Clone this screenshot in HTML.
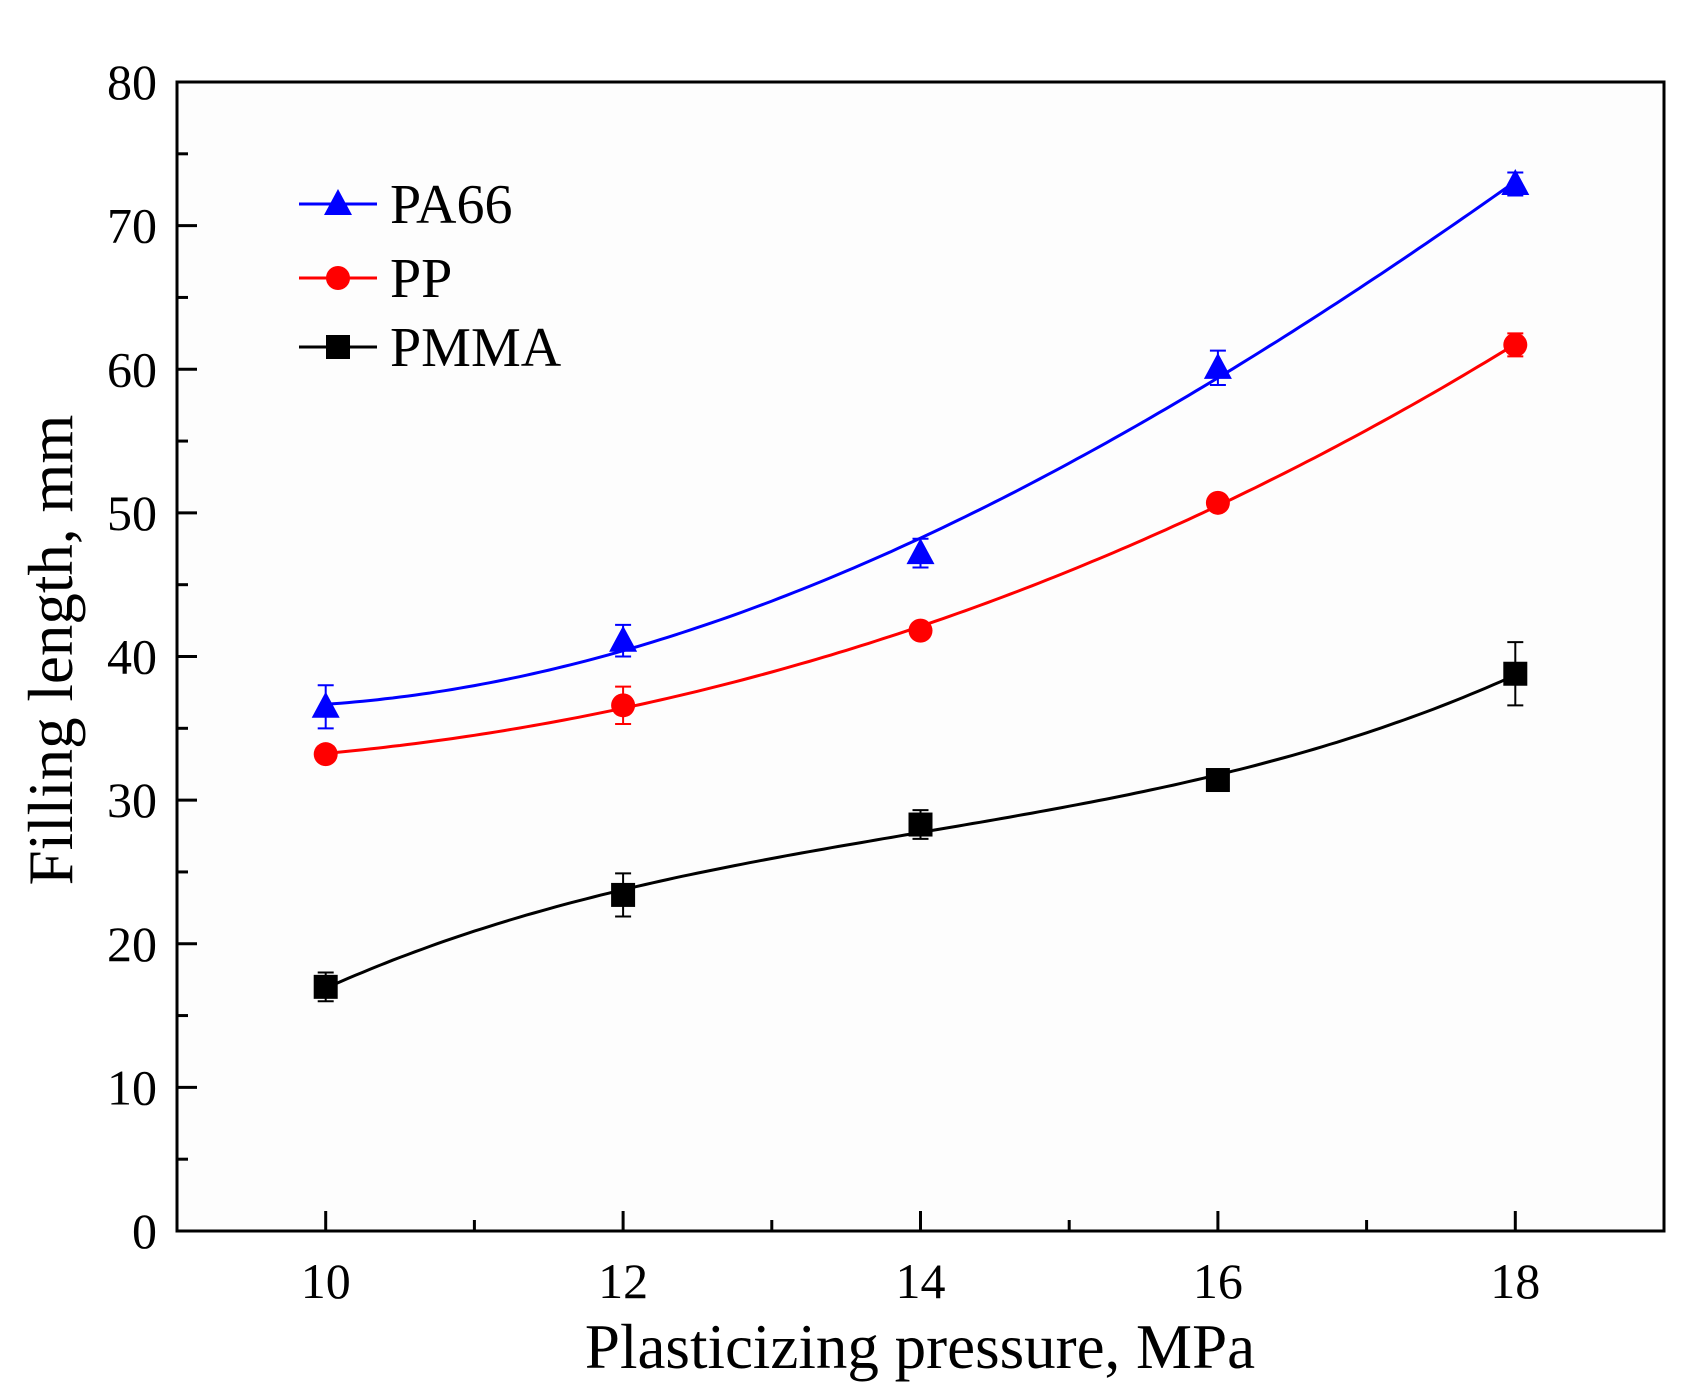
<!DOCTYPE html>
<html><head><meta charset="utf-8"><style>
html,body{margin:0;padding:0;background:#fff;}
svg{display:block;font-family:"Liberation Serif",serif;}
</style></head><body>
<svg id="chart" width="1700" height="1396" viewBox="0 0 1700 1396" xmlns="http://www.w3.org/2000/svg">
<rect x="177" y="82" width="1487" height="1149" fill="#fdfdfd"/>
<g id="series"></g>
<rect x="177" y="82" width="1487" height="1149" fill="none" stroke="#000" stroke-width="3"/>
<g id="axes"></g>
<text x="920" y="1368" font-size="63" text-anchor="middle">Plasticizing pressure, MPa</text>
<text transform="translate(72,650) rotate(-90)" font-size="63" text-anchor="middle">Filling length, mm</text>
<g id="legend"></g>
</svg>
<script>
const xCats=[10,12,14,16,18];
const pa66=[36.5,41.1,47.2,60.1,72.9];
const pa66Err=[1.5,1.1,1.0,1.2,0.8];
const pp=[33.2,36.6,41.8,50.7,61.7];
const ppErr=[0.3,1.3,0.5,0.3,0.8];
const pmma=[17.0,23.4,28.3,31.4,38.8];
const pmmaErr=[1.0,1.5,1.0,0.5,2.2];
const yTicks=[0,10,20,30,40,50,60,70,80];
const xTicks=[10,12,14,16,18];
const names=["PA66","PP","PMMA"];

const NS="http://www.w3.org/2000/svg";
const L=177,R=1664,T=82,B=1231;
const X=v=>L+(v-9)/(19-9)*(R-L);
const Y=v=>B-(v/80)*(B-T);
function mk(tag,attrs,parent){const e=document.createElementNS(NS,tag);for(const k in attrs)e.setAttribute(k,attrs[k]);parent.appendChild(e);return e;}
const axes=document.getElementById('axes');
for(let v=0;v<=80;v+=5){
  const maj=v%10===0;
  const t=mk('line',{x1:L,x2:L+(maj?20:11),y1:Y(v),y2:Y(v),stroke:'#000','stroke-width':3},axes);
  
  
}
yTicks.forEach(v=>{
  const t=mk('text',{x:L-20,y:Y(v)+17,'font-size':50,'text-anchor':'end'},axes);
  t.textContent=v;
  
  
});
for(let v=10;v<=18;v+=1){
  const maj=v%2===0;
  const t=mk('line',{x1:X(v),x2:X(v),y1:B,y2:B-(maj?20:11),stroke:'#000','stroke-width':3},axes);
  
  
}
xTicks.forEach(v=>{
  const t=mk('text',{x:X(v),y:1298,'font-size':50,'text-anchor':'middle'},axes);
  t.textContent=v;
  
  
});
// least-squares cubic fit
function fit(xs,ys){
  const n=4,A=[],b=[];
  for(let i=0;i<n;i++){A.push(new Array(n).fill(0));b.push(0);}
  xs.forEach((x,k)=>{const u=(x-14)/4;for(let i=0;i<n;i++){for(let j=0;j<n;j++)A[i][j]+=Math.pow(u,i+j);b[i]+=ys[k]*Math.pow(u,i);}});
  for(let i=0;i<n;i++){let p=i;for(let r=i+1;r<n;r++)if(Math.abs(A[r][i])>Math.abs(A[p][i]))p=r;[A[i],A[p]]=[A[p],A[i]];[b[i],b[p]]=[b[p],b[i]];
    for(let r=0;r<n;r++){if(r===i)continue;const f=A[r][i]/A[i][i];for(let c=i;c<n;c++)A[r][c]-=f*A[i][c];b[r]-=f*b[i];}}
  const co=b.map((v,i)=>v/A[i][i]);
  return x=>{const u=(x-14)/4;return co[0]+co[1]*u+co[2]*u*u+co[3]*u*u*u;};
}
function marker(type,cx,cy,color,parent){
  if(type==='tri') return mk('polygon',{points:`${cx},${cy-15} ${cx-14},${cy+11} ${cx+14},${cy+11}`,fill:color},parent);
  if(type==='circ') return mk('circle',{cx:cx,cy:cy,r:12,fill:color},parent);
  return mk('rect',{x:cx-12,y:cy-12,width:24,height:24,fill:color},parent);
}
const series=[[pa66,pa66Err,'#0000ff','tri'],[pp,ppErr,'#ff0000','circ'],[pmma,pmmaErr,'#000000','sq']];
const sg=document.getElementById('series');
series.forEach((s,si)=>{
  const [vals,errs,color,type]=s;
  const g=mk('g',{},sg);
  
  
  const f=fit(xCats,vals);
  let d='';
  for(let k=0;k<=160;k++){const x=xCats[0]+(xCats[xCats.length-1]-xCats[0])*k/160;d+=(k?'L':'M')+X(x).toFixed(1)+','+Y(f(x)).toFixed(1);}
  const p=mk('path',{d:d,fill:'none',stroke:color,'stroke-width':3},g);
  
  
  vals.forEach((v,i)=>{
    const x=X(xCats[i]);
    const e=mk('path',{d:`M${x},${Y(v-errs[i])}V${Y(v+errs[i])}M${x-8},${Y(v-errs[i])}H${x+8}M${x-8},${Y(v+errs[i])}H${x+8}`,stroke:color,'stroke-width':2,fill:'none'},g);
    
    
    const m=marker(type,x,Y(v),color,g);
    
    
  });
});
const lg=document.getElementById('legend');


const ly=[204,278,347];
series.forEach((s,si)=>{
  const g=mk('g',{},lg);
  
  
  mk('line',{x1:299,x2:377,y1:ly[si],y2:ly[si],stroke:s[2],'stroke-width':3},g);
  marker(s[3],338,ly[si],s[2],g);
  const t=mk('text',{x:390,y:ly[si]+19,'font-size':56},g);
  t.textContent=names[si];
});
</script>
</body></html>
